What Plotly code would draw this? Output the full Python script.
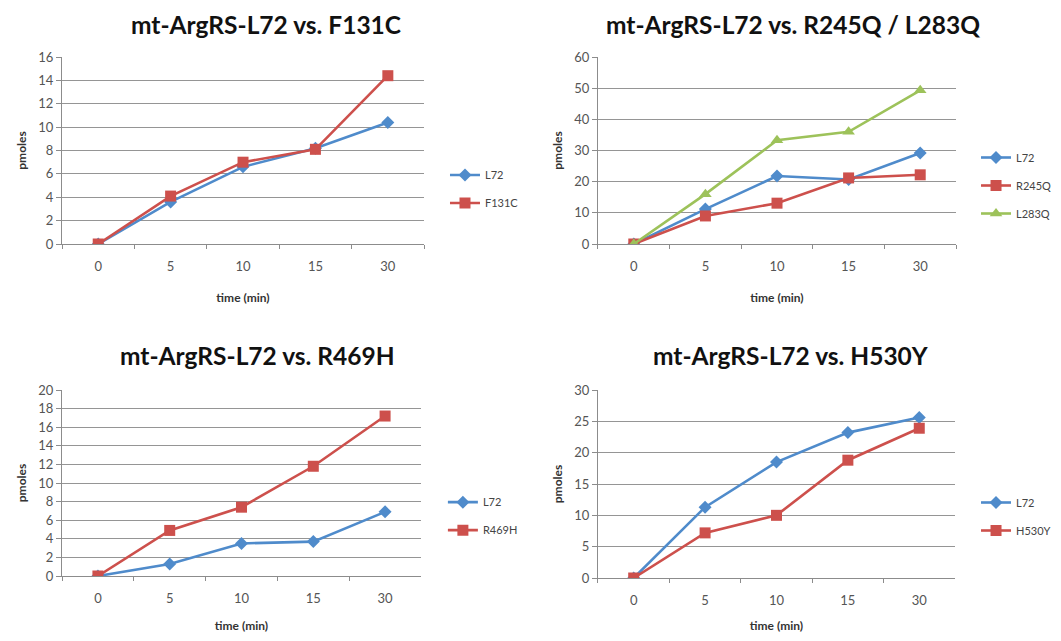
import plotly.graph_objects as go

times = ['0', '5', '10', '15', '30']

# panel 1
p1_l72 = [0, 3.6, 6.6, 8.2, 10.4]
p1_f131c = [0, 4.1, 7.0, 8.1, 14.4]
# panel 2
p2_l72 = [0, 11.2, 21.8, 20.7, 29.2]
p2_r245q = [0, 9.0, 13.1, 21.2, 22.2]
p2_l283q = [0, 16.0, 33.3, 36.0, 49.3]
# panel 3
p3_l72 = [0, 1.3, 3.5, 3.7, 6.9]
p3_r469h = [0, 4.9, 7.4, 11.8, 17.2]
# panel 4
p4_l72 = [0, 11.3, 18.5, 23.2, 25.6]
p4_h530y = [0, 7.2, 10.0, 18.8, 23.9]

BLUE = '#4F8BCB'
RED = '#CD504C'
GREEN = '#9DC25A'
FONT = 'Lato'

# page has an 8px body margin at top/left
W, H = 1053, 625

panels = [
    dict(title='mt-ArgRS-L72 vs. F131C', ymax=16, dtick=2,
         series=[('L72', p1_l72, BLUE, 'diamond', 10), ('F131C', p1_f131c, RED, 'square', 11)],
         xdom=[0.0513, 0.3951], ydom=[0.6224, 0.9216], legend=(0.415, 0.7104),
         tpos=(0.245, 0.973)),
    dict(title='mt-ArgRS-L72 vs. R245Q / L283Q', ymax=60, dtick=10,
         series=[('L72', p2_l72, BLUE, 'diamond', 10), ('R245Q', p2_r245q, RED, 'square', 11),
                 ('L283Q', p2_l283q, GREEN, 'triangle-up', 11)],
         xdom=[0.5603, 0.9003], ydom=[0.6224, 0.9216], legend=(0.9193, 0.716),
         tpos=(0.7455, 0.973)),
    dict(title='mt-ArgRS-L72 vs. R469H', ymax=20, dtick=2,
         series=[('L72', p3_l72, BLUE, 'diamond', 10), ('R469H', p3_r469h, RED, 'square', 11)],
         xdom=[0.0513, 0.3922], ydom=[0.0912, 0.3888], legend=(0.413, 0.187),
         tpos=(0.2374, 0.444)),
    dict(title='mt-ArgRS-L72 vs. H530Y', ymax=30, dtick=5,
         series=[('L72', p4_l72, BLUE, 'diamond', 10), ('H530Y', p4_h530y, RED, 'square', 11)],
         xdom=[0.5603, 0.8993], ydom=[0.088, 0.3888], legend=(0.9193, 0.1864),
         tpos=(0.7436, 0.444)),
]

fig = go.Figure()
annotations = []
layout = {}

for i, p in enumerate(panels):
    n = i + 1
    xa = 'x' if n == 1 else f'x{n}'
    ya = 'y' if n == 1 else f'y{n}'
    lg = 'legend' if n == 1 else f'legend{n}'
    for name, vals, color, sym, size in p['series']:
        fig.add_trace(go.Scatter(
            x=times, y=vals, name=name, mode='lines+markers',
            line=dict(color=color, width=2.6),
            marker=dict(symbol=sym, size=size, color=color),
            xaxis=xa, yaxis=ya, legend=lg, legendgroup=f'{n}-{name}',
        ))
    xkey = 'xaxis' if n == 1 else f'xaxis{n}'
    ykey = 'yaxis' if n == 1 else f'yaxis{n}'
    layout[xkey] = dict(
        domain=p['xdom'], anchor=ya, type='category', range=[-0.5, 4.5],
        showgrid=False, showline=True, linecolor='#8c8c8c', linewidth=1.2,
        ticks='outside', tickson='boundaries', ticklen=4, tickcolor='#8c8c8c',
        ticklabelstandoff=10, automargin=False,
        tickfont=dict(family=FONT, size=13, color='#555555'),
        title=dict(text='<b>time (min)</b>', font=dict(family=FONT, size=12, color='#333333'), standoff=20),
    )
    layout[ykey] = dict(
        domain=p['ydom'], anchor=xa, range=[0, p['ymax']], dtick=p['dtick'],
        showgrid=True, gridcolor='#959595', gridwidth=1.3, zeroline=False,
        showline=True, linecolor='#8c8c8c', linewidth=1.2,
        ticks='outside', ticklen=5, tickcolor='#8c8c8c', automargin=False,
        tickfont=dict(family=FONT, size=13, color='#555555'),
        title=dict(text='<b>pmoles</b>', font=dict(family=FONT, size=12, color='#333333'), standoff=9),
    )
    layout[lg] = dict(
        x=p['legend'][0], y=p['legend'][1], xanchor='left', yanchor='middle',
        font=dict(family=FONT, size=11, color='#444444'),
        bgcolor='rgba(0,0,0,0)', itemwidth=30, tracegroupgap=9,
    )
    annotations.append(dict(
        text=f'<b>{p["title"]}</b>', xref='paper', yref='paper',
        x=p['tpos'][0], y=p['tpos'][1], xanchor='center', yanchor='middle',
        showarrow=False, font=dict(family=FONT, size=24.5, color='#111111'),
    ))

fig.update_layout(
    width=W, height=H,
    margin=dict(l=0, r=0, t=0, b=0, autoexpand=False),
    paper_bgcolor='white', plot_bgcolor='white',
    annotations=annotations,
    showlegend=True,
    **layout,
)

fig.write_html('out.html')
